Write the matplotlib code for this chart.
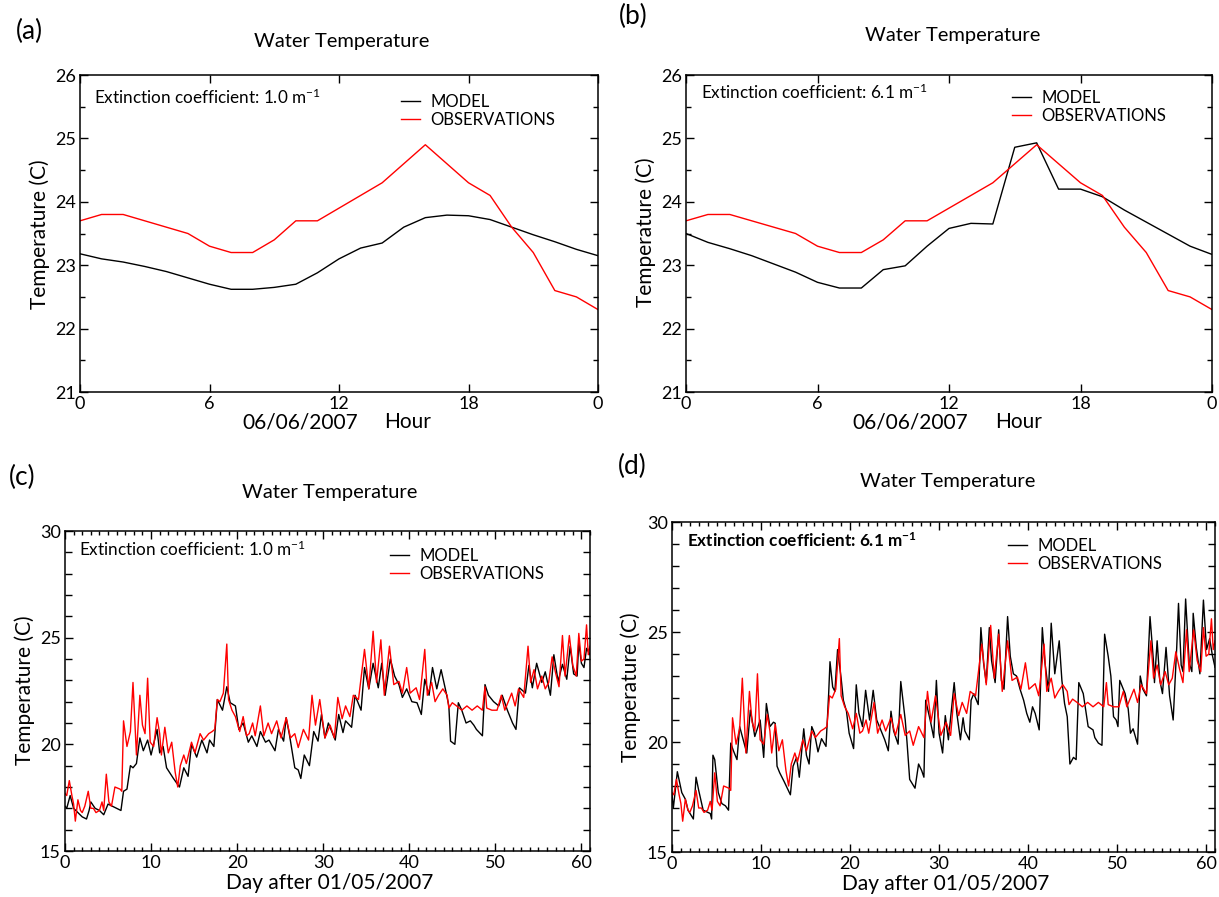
import numpy as np
import matplotlib
matplotlib.use("Agg")
import matplotlib.pyplot as plt
from matplotlib.ticker import MultipleLocator

plt.rcParams['font.family'] = ['Lato', 'DejaVu Sans']
plt.rcParams['mathtext.default'] = 'regular'

W, H = 1219, 897

# hourly data for 06/06/2007 (panels a, b)
hours = list(range(25))
hour_ticks = [0, 6, 12, 18, 24]
hour_labels = ['0', '6', '12', '18', '0']
obs_hourly = [23.7, 23.8, 23.8, 23.7, 23.6, 23.5, 23.3, 23.2, 23.2, 23.4, 23.7, 23.7, 23.9,
              24.1, 24.3, 24.6, 24.9, 24.6, 24.3, 24.1, 23.6, 23.2, 22.6, 22.5, 22.3]
model_hourly_a = [23.18, 23.1, 23.05, 22.98, 22.9, 22.8, 22.7, 22.62, 22.62, 22.65, 22.7, 22.88, 23.1,
                  23.27, 23.35, 23.6, 23.75, 23.79, 23.78, 23.72, 23.6, 23.48, 23.37, 23.25, 23.15]
model_hourly_b = [23.5, 23.36, 23.26, 23.15, 23.02, 22.89, 22.73, 22.64, 22.64, 22.93, 22.99, 23.3, 23.58,
                  23.66, 23.65, 24.86, 24.93, 24.2, 24.2, 24.08, 23.87, 23.68, 23.49, 23.3, 23.17]

# daily series, day after 01/05/2007 (panels c, d)
obs_days = [0.0, 0.2, 0.5, 0.8, 1.0, 1.2, 1.5, 1.8, 2.0, 2.3, 2.7, 3.0, 3.3, 3.6, 4.0, 4.3, 4.5, 4.8,
            5.1, 5.4, 5.8, 6.4, 6.6, 6.8, 7.2, 7.6, 7.9, 8.3, 8.7, 9.0, 9.3, 9.6, 9.9, 10.3, 10.7,
            11.0, 11.2, 11.6, 12.0, 12.4, 12.8, 13.1, 13.4, 13.8, 14.1, 14.7, 15.1, 15.7, 16.1, 16.7,
            17.1, 17.4, 17.7, 18.0, 18.4, 18.8, 19.0, 19.4, 19.8, 20.3, 20.7, 21.1, 21.4, 21.8, 22.1,
            22.7, 23.1, 23.6, 24.0, 24.6, 25.1, 25.7, 26.2, 26.7, 27.1, 27.7, 28.3, 28.7, 29.1, 29.6,
            30.2, 30.8, 31.3, 31.7, 32.2, 32.6, 33.1, 33.5, 34.1, 34.8, 35.3, 35.8, 36.2, 36.7, 37.1,
            37.7, 38.2, 38.8, 39.2, 39.7, 40.1, 40.8, 41.2, 41.8, 42.1, 42.6, 43.0, 43.4, 43.9, 44.4,
            44.6, 45.0, 45.5, 46.1, 46.7, 47.3, 47.9, 48.5, 48.8, 49.0, 49.6, 50.2, 50.7, 51.1, 51.9,
            52.3, 52.7, 53.3, 53.8, 54.1, 54.5, 54.9, 55.4, 55.8, 56.2, 56.6, 57.0, 57.4, 57.8, 58.1,
            58.6, 59.0, 59.4, 59.7, 60.0, 60.3, 60.6, 60.8, 61.0]
obs_temp = [17.7, 17.6, 18.3, 17.6, 17.2, 16.4, 17.4, 16.9, 16.8, 17.1, 17.8, 17.0, 17.0, 16.8, 16.9, 17.3, 16.9, 18.6,
            17.3, 17.1, 18.0, 17.9, 17.8, 21.1, 19.9, 20.6, 22.9, 19.5, 22.3, 20.9, 20.5, 23.1, 20.1, 19.9, 21.25,
            20.5, 19.5, 20.8, 19.6, 20.1, 18.7, 18.0, 19.0, 19.5, 19.1, 20.1, 19.6, 20.5, 20.2, 20.5,
            20.6, 20.7, 22.1, 22.0, 22.4, 24.7, 22.1, 21.6, 21.3, 20.6, 21.3, 20.4, 20.5, 21.0, 20.4,
            21.8, 20.4, 21.0, 20.5, 21.1, 20.3, 21.25, 20.3, 20.5, 19.85, 20.7, 20.2, 22.3, 20.9, 22.1,
            20.3, 20.9, 20.3, 22.2, 21.2, 21.8, 21.3, 22.3, 22.1, 24.45, 22.6, 25.3, 22.9, 24.9, 22.3,
            24.6, 22.8, 22.95, 22.4, 23.6, 22.4, 22.65, 22.1, 24.45, 22.3, 22.9, 22.0, 22.3, 22.6, 22.3,
            21.7, 21.95, 21.8, 21.6, 21.8, 21.6, 21.8, 21.6, 22.7, 21.7, 21.6, 21.6, 22.3, 21.6, 22.4,
            21.8, 22.6, 22.2, 24.6, 22.9, 23.5, 22.6, 23.2, 22.6, 22.9, 24.1, 23.35, 22.7, 25.1, 23.2,
            25.1, 23.7, 23.2, 25.2, 23.9, 24.0, 25.6, 24.2, 24.6]

model_days_c = [0.0, 0.2, 0.6, 1.0, 1.5, 2.0, 2.5, 2.8, 3.0, 3.5, 4.0, 4.5, 5.0, 5.5, 6.0, 6.5, 6.8, 7.2,
                7.6, 7.9, 8.3, 8.7, 9.1, 9.6, 10.0, 10.7, 11.0, 11.4, 11.8, 12.6, 13.3, 13.8, 14.3, 14.7,
                15.3, 15.9, 16.5, 16.8, 17.3, 17.7, 18.3, 18.8, 19.2, 19.8, 20.2, 20.7, 21.3, 21.7, 22.3,
                22.7, 23.3, 23.7, 24.4, 24.8, 25.4, 25.7, 26.1, 26.7, 27.1, 27.4, 27.8, 28.4, 28.9, 29.4,
                29.8, 30.2, 30.6, 31.4, 31.8, 32.3, 32.6, 33.3, 33.7, 34.4, 34.8, 35.3, 35.8, 36.4, 36.8,
                37.2, 37.8, 38.3, 38.8, 39.2, 39.7, 40.3, 40.9, 41.4, 41.8, 42.3, 42.7, 43.2, 43.7, 44.3,
                44.6, 44.8, 45.3, 45.7, 46.1, 46.6, 47.1, 47.5, 47.8, 48.5, 48.8, 49.2, 49.8, 50.4, 50.8,
                51.4, 52.0, 52.4, 52.8, 53.5, 53.9, 54.3, 54.8, 55.4, 55.8, 56.4, 56.8, 57.3, 57.8, 58.3,
                58.7, 59.1, 59.5, 59.7, 60.0, 60.3, 60.6, 61.0]
model_temp_c = [17.1, 17.0, 17.6, 17.0, 16.8, 16.6, 16.5, 16.9, 17.3, 17.0, 16.9, 16.7, 17.2, 17.1, 17.0, 16.9, 17.8, 17.9,
                19.0, 18.9, 19.1, 20.3, 19.7, 20.2, 19.5, 20.7, 19.6, 19.9, 18.9, 18.4, 18.0, 18.9, 18.5, 20.0,
                19.4, 20.2, 19.6, 20.2, 19.9, 22.1, 21.6, 22.7, 21.95, 21.8, 20.7, 21.0, 20.1, 20.4, 19.9,
                20.6, 20.1, 20.2, 19.7, 20.7, 20.15, 21.25, 20.4, 18.9, 18.8, 18.4, 19.5, 19.0, 20.6, 20.15,
                21.4, 20.3, 21.0, 20.2, 21.4, 20.55, 21.1, 20.8, 22.3, 21.6, 23.6, 22.6, 23.8, 22.65, 23.8,
                22.3, 24.0, 23.2, 22.8, 22.2, 22.6, 22.0, 21.95, 21.4, 23.05, 22.3, 23.6, 22.6, 23.5, 22.4,
                21.8, 20.15, 20.0, 21.95, 21.6, 21.0, 21.1, 20.9, 20.7, 20.4, 22.8, 22.3, 22.0, 21.8, 22.3,
                21.6, 21.0, 20.7, 22.65, 22.4, 23.7, 22.65, 23.8, 22.9, 23.4, 22.3, 24.2, 22.95, 23.75, 23.05,
                24.6, 23.3, 23.2, 24.8, 23.8, 23.6, 24.5, 24.2]

model_days_d = [0.0, 0.15, 0.6, 1.1, 1.5, 1.8, 2.4, 2.7, 3.0, 3.5, 4.3, 4.45, 4.6, 4.8, 5.2, 5.6, 6.0, 6.35,
                6.6, 6.9, 7.3, 7.6, 7.9, 8.4, 8.8, 9.0, 9.3, 9.9, 10.3, 10.6, 11.0, 11.4, 11.6, 11.8, 12.1,
                12.6, 13.3, 13.6, 14.0, 14.3, 14.8, 15.1, 15.4, 15.7, 16.0, 16.4, 16.8, 17.3, 17.6, 17.75,
                18.05, 18.3, 18.6, 19.0, 19.25, 19.6, 19.9, 20.4, 20.7, 21.0, 21.4, 21.75, 22.2, 22.6, 23.0,
                23.6, 23.9, 24.3, 24.6, 24.9, 25.4, 25.7, 26.2, 26.4, 26.7, 27.3, 27.7, 28.05, 28.3, 28.5,
                29.0, 29.4, 29.7, 30.0, 30.4, 30.7, 31.05, 31.7, 32.0, 32.4, 32.7, 32.9, 33.4, 33.6, 33.9,
                34.4, 34.7, 35.0, 35.3, 35.65, 35.9, 36.3, 36.7, 37.0, 37.3, 37.7, 38.0, 38.35, 38.7, 39.1,
                39.5, 39.85, 40.2, 40.5, 40.8, 41.25, 41.6, 41.9, 42.3, 42.6, 43.0, 43.5, 43.8, 44.1, 44.4,
                44.7, 45.1, 45.4, 45.7, 46.2, 46.6, 46.75, 47.3, 47.5, 47.9, 48.3, 48.6, 49.0, 49.3, 49.6,
                49.9, 50.1, 50.3, 50.9, 51.25, 51.5, 51.8, 52.3, 52.6, 52.9, 53.3, 53.7, 54.1, 54.2, 54.5,
                54.8, 55.1, 55.5, 55.9, 56.3, 56.7, 56.9, 57.2, 57.4, 57.7, 58.1, 58.4, 58.55, 58.9, 59.3,
                59.7, 60.05, 60.4, 60.7, 61.0]
model_temp_d = [17.6, 17.0, 18.65, 17.7, 17.4, 16.9, 16.5, 18.4, 17.8, 16.9, 16.75, 16.5, 19.4, 19.2, 17.7, 17.2, 17.1, 16.9,
                19.95, 19.6, 19.2, 20.7, 20.25, 19.5, 21.45, 21.0, 20.25, 21.0, 19.3, 21.75, 20.7, 20.9, 20.85, 18.9, 18.6,
                18.2, 17.6, 18.9, 19.3, 18.4, 20.6, 19.4, 19.0, 20.7, 20.4, 19.55, 20.15, 19.8, 22.2, 23.65,
                22.5, 22.3, 24.2, 22.9, 21.9, 21.4, 20.4, 19.7, 22.6, 21.3, 20.7, 22.35, 21.0, 22.35, 21.0,
                20.4, 20.1, 19.6, 21.4, 20.5, 19.9, 22.75, 21.0, 20.0, 18.3, 17.9, 19.0, 18.7, 18.4, 21.9,
                21.0, 20.2, 22.8, 20.4, 19.5, 21.2, 20.1, 22.7, 21.3, 20.1, 21.1, 20.5, 20.1, 21.9, 22.2,
                21.7, 25.2, 23.6, 22.7, 25.2, 23.7, 22.7, 25.1, 22.8, 22.4, 25.7, 23.9, 23.1, 23.0, 22.4,
                21.9, 21.3, 20.9, 21.6, 21.3, 20.55, 25.2, 23.6, 22.3, 25.4, 23.1, 24.6, 22.8, 21.75, 21.15,
                19.0, 19.3, 19.2, 22.7, 22.2, 21.1, 20.7, 20.55, 20.2, 19.95, 19.85, 24.9, 23.9, 23.0, 21.15,
                21.0, 20.7, 22.8, 22.2, 21.5, 20.4, 20.6, 19.9, 23.0, 22.4, 22.1, 25.7, 23.6, 22.7, 24.6,
                22.8, 22.2, 24.3, 22.1, 21.0, 24.3, 26.3, 23.5, 23.2, 26.5, 23.6, 23.2, 25.85, 24.3, 23.1,
                26.45, 24.2, 24.7, 23.95, 23.4]


def px_rect(left, top, right, bottom):
    return [left / W, 1 - bottom / H, (right - left) / W, (bottom - top) / H]


def ftext(x, y, s, **kw):
    fig.text(x / W, 1 - y / H, s, ha=kw.pop('ha', 'center'), va=kw.pop('va', 'center'), **kw)


def style_axes(ax):
    for sp in ax.spines.values():
        sp.set_linewidth(1.1)
    ax.tick_params(which='both', direction='in', top=True, right=True, labelsize=13, pad=3, width=1.0)
    ax.tick_params(which='major', length=6)
    ax.tick_params(which='minor', length=3.5)


def add_legend(ax, x, y):
    ax.legend(loc='upper left', bbox_to_anchor=(x / W, 1 - y / H), bbox_transform=fig.transFigure,
              frameon=False, fontsize=12, borderpad=0, borderaxespad=0, handlelength=1.15,
              handletextpad=0.6, labelspacing=0.1)


fig = plt.figure(figsize=(W / 100, H / 100), dpi=100)

# ---- panels (a) and (b): one day, hourly
hour_panels = [
    ('(a)', px_rect(80, 75, 598, 392), model_hourly_a, '1.0', (29, 31), (342, 41), (40, 234),
     (300, 408, 422), (401, 94), (94, 97)),
    ('(b)', px_rect(686, 75, 1212, 392), model_hourly_b, '6.1', (633, 16), (953, 36), (646, 232),
     (910, 1019, 422), (1012, 90), (701, 92)),
]
for tag, rect, model, kext, tag_xy, title_xy, ylab_xy, xlab_xy, leg_xy, ext_xy in hour_panels:
    ax = fig.add_axes(rect)
    ax.plot(hours, model, color='black', lw=1.0, label='MODEL')
    ax.plot(hours, obs_hourly, color='#ff0000', lw=1.0, label='OBSERVATIONS')
    ax.set_xlim(0, 24)
    ax.set_ylim(21, 26)
    ax.set_xticks(hour_ticks)
    ax.set_xticklabels(hour_labels)
    ax.yaxis.set_major_locator(MultipleLocator(1))
    ax.yaxis.set_minor_locator(MultipleLocator(0.5))
    style_axes(ax)
    add_legend(ax, *leg_xy)
    ftext(*tag_xy, tag, fontsize=19)
    ftext(*title_xy, 'Water Temperature', fontsize=14.5)
    ftext(*ylab_xy, 'Temperature (C)', fontsize=15, rotation=90)
    ftext(xlab_xy[0], xlab_xy[2], '06/06/2007', fontsize=15)
    ftext(xlab_xy[1], xlab_xy[2], 'Hour', fontsize=15)
    ftext(*ext_xy, 'Extinction coefficient: ' + kext + ' m$^{-1}$', fontsize=12.3, ha='left')

# ---- panels (c) and (d): two months
day_panels = [
    ('(c)', px_rect(65, 531, 590, 851), model_days_c, model_temp_c, '1.0', 'normal', (22, 477),
     (330, 492), (25, 690), (330, 883), (390, 548), (79, 549)),
    ('(d)', px_rect(672, 522, 1215, 852), model_days_d, model_temp_d, '6.1', 'bold', (632, 466),
     (948, 481), (631, 687), (946, 884), (1008, 538), (687, 541)),
]
for tag, rect, mdays, mtemp, kext, wt, tag_xy, title_xy, ylab_xy, xlab_xy, leg_xy, ext_xy in day_panels:
    ax = fig.add_axes(rect)
    ax.plot(mdays, mtemp, color='black', lw=1.0, label='MODEL')
    ax.plot(obs_days, obs_temp, color='#ff0000', lw=1.0, label='OBSERVATIONS')
    ax.set_xlim(0, 61)
    ax.set_ylim(15, 30)
    ax.xaxis.set_major_locator(MultipleLocator(10))
    ax.xaxis.set_minor_locator(MultipleLocator(1))
    ax.yaxis.set_major_locator(MultipleLocator(5))
    ax.yaxis.set_minor_locator(MultipleLocator(1))
    style_axes(ax)
    ax.tick_params(axis='x', which='minor', length=3)
    ax.tick_params(axis='y', which='minor', length=5)
    add_legend(ax, *leg_xy)
    ftext(*tag_xy, tag, fontsize=19)
    ftext(*title_xy, 'Water Temperature', fontsize=14.5)
    ftext(*ylab_xy, 'Temperature (C)', fontsize=15, rotation=90)
    ftext(*xlab_xy, 'Day after 01/05/2007', fontsize=15)
    ftext(*ext_xy, 'Extinction coefficient: ' + kext + ' m$^{-1}$', fontsize=12.3, ha='left',
          fontweight=wt)

fig.savefig('out.png', dpi=100)
